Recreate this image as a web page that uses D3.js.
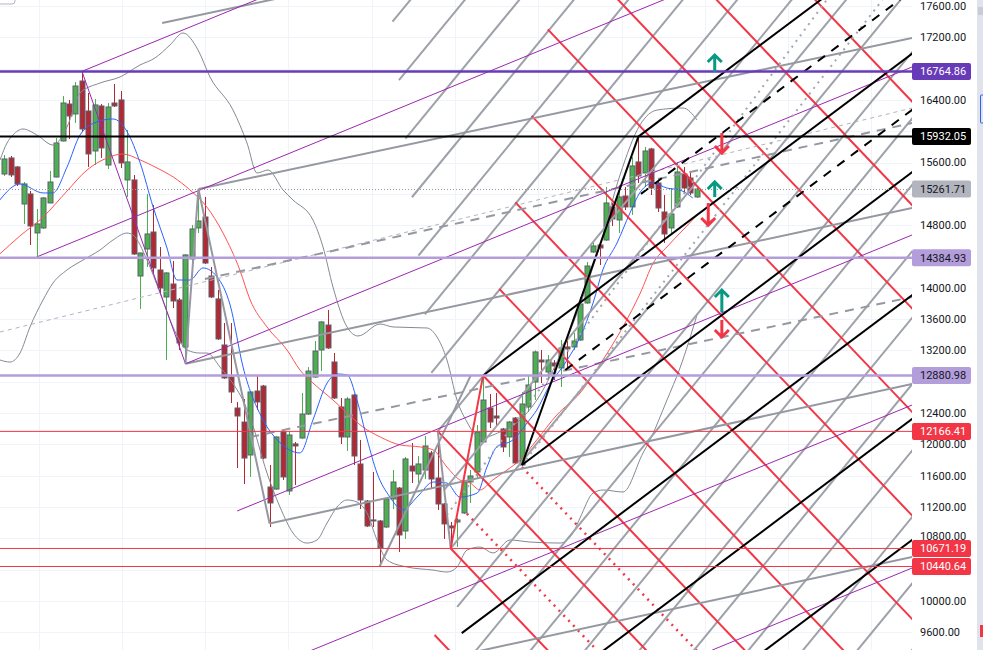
<!DOCTYPE html>
<html>
<head>
<meta charset="utf-8">
<script src="https://cdn.jsdelivr.net/npm/d3@7"></script>
<style>
body { margin: 0; background: #fff; overflow: hidden; }
svg { display: block; font-family: Roboto, "Noto Sans", sans-serif; }
</style>
</head>
<body>
<div id="chart"></div>
<script>
// candles, one per bar (index 0..107)
const opens = [15454,15659,15544,15071,15199,14701,14765,15084,15416,15876,
  16348,16221,16642,16259,15748,16323,15569,16361,16400,15378,
  15378,14151,14496,14713,14228,13883,14049,13845,13245,14369,
  14765,14905,14151,13858,13270,12861,12465,12286,11865,12682,
  12746,11456,11430,12159,11405,12006,12082,12388,12861,13206,
  13525,13053,12478,12095,12631,11750,11277,11035,11022,10945,
  11303,11443,10894,11724,11622,11673,11890,11571,11239,10958,
  11009,11124,11520,11648,12031,12465,12363,12197,12095,12337,
  11737,12478,12797,13078,12925,13040,12976,13245,13245,13334,
  13807,14458,14547,14611,15033,14867,15173,15033,15608,15467,
  15774,15339,14969,14765,15033,15454,15403,15161];
const highs = [15697,15684,15557,15352,15237,15007,15160,15493,15914,16451,
  16400,16630,16765,16489,16412,16349,16361,16604,16515,16016,
  15442,14450,15199,15058,14522,14200,14343,13870,14430,14803,
  15263,15161,14266,13973,13551,13551,12542,12580,12680,12887,
  12760,11737,12105,12172,12172,12031,12657,12988,13321,13576,
  13717,13168,12593,12606,12645,12057,11290,11648,11035,11316,
  11673,11456,11839,12018,11852,12108,11916,12166,11252,11009,
  11060,11545,11673,12248,12881,12644,12657,12210,12300,12350,
  12670,12881,13200,13206,13142,13078,13334,13334,13424,13883,
  14330,14586,14573,15288,15084,15314,15288,15672,15932,15799,
  15787,15403,15186,15275,15608,15544,15493,15275];
const lows = [15429,15416,15301,14816,14547,14394,14752,15084,15410,15870,
  15901,16106,15991,15544,15569,15659,15518,16310,15531,15161,
  14420,13730,14266,14190,13934,13078,13743,13206,13117,14202,
  14701,14305,13870,13335,12837,12529,11699,11494,11584,12440,
  11810,10945,11418,11545,11354,11482,12070,12376,12850,12937,
  13220,12580,12006,11916,11737,11175,10945,10945,10441,10932,
  11175,10626,10792,11507,11507,11558,11443,11162,10792,10671,
  10690,11110,11252,11571,12020,12210,12223,11903,11839,11750,
  11737,12414,12567,12784,12823,12823,12733,12950,13206,13321,
  13794,14445,14292,14598,14790,14701,14994,14931,15339,15288,
  15186,14969,14573,14701,15020,15212,15186,15148];
const closes = [15646,15442,15327,15327,14790,14816,15148,15352,15850,16361,
  16195,16578,16029,15710,16336,15787,16310,16323,15595,15608,
  14432,14445,14688,14254,13998,14190,13832,13296,14420,14752,
  14854,14317,13883,13347,12849,12670,12363,11826,12670,12542,
  11826,11252,12095,11584,12120,11980,12388,12937,13193,13564,
  13232,12593,12095,12580,11852,11290,10958,11022,10677,11303,
  11520,10843,11814,11660,11750,11980,11558,11239,10984,10933,
  11035,11520,11597,12159,12567,12286,12337,11967,12286,11763,
  12516,12759,13181,13053,13078,13002,13232,13219,13321,13794,
  14279,14535,14509,15084,14880,15161,15033,15557,15429,15748,
  15275,15020,14688,14944,15480,15275,15212,15262];

// indicator lines: [bar, price]
const fastMA = [[-0.7,15122],[2.4,15327],[6.0,15212],[7.5,15212],[9.7,15544],[11.7,15952],[14.3,16119],[16.8,16157],
  [19.0,15991],[21.0,15595],[23.0,15033],[25.1,14522],[26.7,14100],[28.7,14100],[30.7,14254],[32.9,14139],
  [34.9,13781],[36.9,12989],[40.0,12312],[42.2,12057],[45.7,11891],[47.7,12312],[49.9,12785],[51.5,12900],[53.0,12887],
  [54.5,12567],[56.1,12057],[57.6,11635],[59.6,11328],[61.6,11162],[63.8,11328],[66.3,11520],[68.4,11507],
  [70.4,11328],[73.1,11379],[74.6,11712],[76.1,11967],[78.6,12057],[80.8,12274],[82.3,12440],[84.3,12759],
  [87.0,13078],[89.0,13372],[91.0,13807],[92.5,14228],[94.7,14573],[96.7,14956],[98.3,15224],[100.3,15339],
  [102.4,15275],[104.4,15250],[106.4,15148]];
const slowMA = [[-0.7,14432],[2.4,14662],[6.0,14904],[9.7,15237],[12.8,15506],[15.9,15659],[18.3,15710],[21.0,15634],
  [23.6,15531],[26.1,15416],[28.7,15250],[31.3,15033],[33.8,14701],[36.4,14228],[38.0,13845],[40.6,13500],
  [43.7,13206],[45.7,12950],[47.7,12785],[50.8,12567],[53.0,12401],[55.4,12223],[58.1,12095],[61.2,11993],
  [64.3,11967],[66.3,11929],[68.4,11712],[70.4,11546],[72.0,11507],[73.5,11418],[75.5,11546],[77.7,11673],
  [79.7,11801],[82.3,12057],[85.4,12376],[89.0,12657],[92.5,13078],[95.6,13500],[98.3,13934],[100.3,14317],
  [102.4,14522],[104.9,14739],[107.1,14931]];
const bandUpper = [[-0.66,15633],[0.42,15850],[1.34,15952],[2.89,16029],[5.05,15952],[7.53,15824],[9.69,16054],
  [11.7,16489],[14.79,16616],[17.88,16693],[20.97,16846],[23.29,16936],[25.61,17102],[27.62,17255],[29.94,17038],
  [31.79,16693],[35.35,16271],[37.51,15850],[39.06,15467],[40.76,15505],[43.08,15250],[44.62,15122],[47.71,14866],
  [49.26,14521],[50.8,14010],[52.97,13500],[54.67,13385],[58.07,13538],[60.08,13500],[65.33,13487],[66.88,13372],
  [68.42,13078],[69.97,12567],[71.51,12286],[73.53,12082],[76.62,12159],[79.71,12312],[82.8,12631],[85.89,13142],
  [88.98,13781],[92.07,14547],[95.16,15441],[98.25,16080],[100.88,16271],[104.9,16297],[107.07,16144]];
const bandLower = [[-0.66,13078],[0.88,13052],[2.43,13167],[3.97,13500],[5.98,13844],[7.53,14062],[9.69,14228],
  [12.16,14355],[14.79,14483],[16.8,14611],[18.96,14700],[19.89,14675],[22.06,14355],[24.07,13934],[26.07,13500],
  [28.24,13206],[30.25,13167],[31.33,13167],[33.34,12988],[37.98,12350],[40.6,11635],[42.61,11200],[44.62,10868],
  [46.78,10740],[48.33,10779],[49.88,10996],[51.42,11200],[52.97,11290],[54.51,11264],[56.06,11124],[57.6,10779],
  [59.15,10523],[62.24,10434],[66.26,10395],[68.42,10370],[69.97,10434],[71.51,10651],[73.52,10689],[75.53,10613],
  [78.16,10779],[81.25,10753],[85.89,10740],[87.9,10868],[88.98,11060],[91.0,11379],[92.53,11418],[95.62,11392],
  [98.71,11890],[99.79,12056],[102.42,12567],[104.43,12976],[107.06,13653]];

// horizontal levels and price scale
const levelPrices = [16764.86, 15932.05, 14384.93, 12880.98, 12166.41, 10671.19, 10440.64];
const lastPrice = 15261.71;
const priceTicks = [9600,10000,10400,10800,11200,11600,12000,12400,12800,13200,13600,14000,14400,14800,15200,15600,16000,16400,16800,17200,17600];
const tickLabels = [9600,10000,10800,11200,11600,12000,12400,13200,13600,14000,14800,15600,16400,17200,17600];
const gridBars = [5.3,18.2,31.0,43.9,56.8,69.6,82.5,95.4,108.3,121.1,134.0];

// drawing tools, in [bar, price]
const greyRayStarts = [[60,17400],[61,16652],[62,15905],[63,15157],[64,14410],[65,13662],[66,12914],[67,12166.41],
  [68,11419],[69,10671.19],[70,9924],[71,9176],[72,8428],[73,7681],[74,6933],[75,6186],[76,5438],[77,4690],[78,3943],[79,3195]];
const greyRaySlope = 100.8;      // price per bar
const redRayStarts = [[66.5,9566],[69,10671.19],[67,12166.41],[74,12880.98],[76.5,13986],[79,15091],[81.5,16196],
  [84,17301],[86.5,18406],[89,19510],[91.5,20615]];
const redRaySlope = -86.8;
const redMidStarts = [[71.5,11115],[80,11710]];
const blackRayStarts = [[98,15932.05],[74,12880.98],[80,11737],[70.7,9590],[88,9081],[108,8776]];
const blackMidStarts = [[98.4,15200],[86.7,12950]];
const blackSlope = 62;
const greySegs = [[[24.4,17383],[140.3,19420]],[[30,15263],[140.3,17191]],[[28,13030],[140.3,15020]],
  [[41,10990],[140.3,12772]],[[70,9300],[140.3,10562]]];
const purpleSegs = [[[12,16764.86],[40,17714]],[[5,14394],[110,17953]],[[28,13030],[140.3,16821]],
  [[36,11150],[140.3,14675]],[[45.7,9310],[140.3,12503]],[[109.4,9373],[140.3,10421]]];
const greyDashSegs = [[[31,14113],[140.3,16105]],[[38,12094],[140.3,13883]]];
const greyThinDashSegs = [[[-0.66,13436],[140.3,16297]]];
const greyDotSegs = [[[80,11737],[135.7,17677]],[[68.4,11098],[127.1,17677]]];
const purpleLeg = [[12,16764.86],[28,13030]];
const greyLegs = [[[28,13030],[30,15263],[41,10990]],[[67,12166.41],[69,10671.19]],[[58,10440.64],[72.1,12880.98]]];
const redLeg = [[69,10671.19],[74,12880.98]];
const blackLeg = [[80,11737],[98,15932.05]];
const upArrows = [[109.8,16974],[109.8,15352],[110.9,13972]];
const downArrows = [[110.9,15722],[108.8,14802],[110.9,13372]];

const W = 983, H = 650, PW = 912;
const GREEN = '#4caf50', RED = '#f23645', GREY = '#9598a1', TEAL = '#089981';

const x = d3.scaleLinear().domain([-0.665, 140.29]).range([0, PW]);
const y = d3.scaleLinear().domain([9600, 17600]).range([632.3, 6]);

const svg = d3.select('#chart').append('svg').attr('width', W).attr('height', H);
svg.append('rect').attr('width', W).attr('height', H).attr('fill', '#fff');
svg.append('clipPath').attr('id', 'plot').append('rect').attr('width', PW).attr('height', H);

const grid = svg.append('g').attr('stroke', '#f0f3fa').attr('stroke-width', 1);
grid.selectAll('.h').data(priceTicks).enter().append('line')
  .attr('x1', 0).attr('x2', PW).attr('y1', d => Math.round(y(d)) + 0.5).attr('y2', d => Math.round(y(d)) + 0.5);
grid.selectAll('.v').data(gridBars).enter().append('line')
  .attr('y1', 0).attr('y2', H).attr('x1', d => Math.round(x(d)) + 0.5).attr('x2', d => Math.round(x(d)) + 0.5);

const plot = svg.append('g').attr('clip-path', 'url(#plot)');

// candles
const bars = d3.range(opens.length);
const cg = plot.append('g');
cg.selectAll('.wick').data(bars).enter().append('line')
  .attr('x1', i => Math.round(x(i)) + 0.5).attr('x2', i => Math.round(x(i)) + 0.5)
  .attr('y1', i => y(highs[i])).attr('y2', i => y(lows[i]))
  .attr('stroke', i => closes[i] >= opens[i] ? GREEN : '#b22833').attr('stroke-width', 1);
cg.selectAll('.body').data(bars).enter().append('rect')
  .attr('x', i => Math.round(x(i)) - 2)
  .attr('y', i => y(Math.max(opens[i], closes[i])))
  .attr('width', 5)
  .attr('height', i => Math.max(1, Math.abs(y(opens[i]) - y(closes[i]))))
  .attr('fill', i => closes[i] >= opens[i] ? GREEN : '#b22833')
  .attr('stroke', '#5d606b').attr('stroke-width', 1);

// indicators
const curve = d3.line().x(d => x(d[0])).y(d => y(d[1])).curve(d3.curveMonotoneX);
[[bandUpper, '#868993'], [bandLower, '#868993'], [slowMA, '#ff5252'], [fastMA, '#2962ff']].forEach(([pts, c]) => {
  plot.append('path').attr('d', curve(pts)).attr('fill', 'none').attr('stroke', c).attr('stroke-width', 1);
});

// drawings
const dg = plot.append('g').attr('fill', 'none').attr('stroke-linecap', 'butt');
function seg(a, b, color, width, dash) {
  const l = dg.append('line').attr('x1', x(a[0])).attr('y1', y(a[1])).attr('x2', x(b[0])).attr('y2', y(b[1]))
    .attr('stroke', color).attr('stroke-width', width);
  if (dash) l.attr('stroke-dasharray', dash);
  return l;
}
function ray(s, slope, color, width, dash) {
  return seg(s, [s[0] + 90, s[1] + slope * 90], color, width, dash);
}
const poly = d3.line().x(d => x(d[0])).y(d => y(d[1]));

greyRayStarts.forEach(s => ray(s, greyRaySlope, '#9ea1a9', 2));
redRayStarts.forEach(s => ray(s, redRaySlope, RED, 2));
redMidStarts.forEach(s => ray(s, redRaySlope, RED, 2.5, '2 5'));
greyThinDashSegs.forEach(s => seg(s[0], s[1], '#b2b5be', 1, '4 4'));
greyDashSegs.forEach(s => seg(s[0], s[1], GREY, 2, '9 7'));
greySegs.forEach(s => seg(s[0], s[1], GREY, 2));
purpleSegs.forEach(s => seg(s[0], s[1], '#9c27b0', 1));
greyDotSegs.forEach(s => seg(s[0], s[1], '#a3a6ae', 2, '2 5'));
blackRayStarts.forEach(s => ray(s, blackSlope, '#000', 2));
blackMidStarts.forEach(s => ray(s, blackSlope, '#000', 2, '9 8'));
dg.append('path').attr('d', poly(purpleLeg)).attr('stroke', '#9c27b0').attr('stroke-width', 1);
greyLegs.forEach(p => dg.append('path').attr('d', poly(p)).attr('stroke', GREY).attr('stroke-width', 2));
dg.append('path').attr('d', poly(redLeg)).attr('stroke', RED).attr('stroke-width', 2);
dg.append('path').attr('d', poly(blackLeg)).attr('stroke', '#000').attr('stroke-width', 2);

// horizontal levels
const levelColor = ['#673ab7', '#000', '#b39ddb', '#b39ddb', RED, RED, RED];
const levelWidth = [2.5, 2, 2.5, 2.5, 1, 1, 1];
levelPrices.forEach((p, k) => {
  plot.append('line').attr('x1', 0).attr('x2', PW).attr('y1', y(p)).attr('y2', y(p))
    .attr('stroke', levelColor[k]).attr('stroke-width', levelWidth[k]);
});
plot.append('line').attr('x1', 0).attr('x2', PW).attr('y1', Math.round(y(lastPrice)) + 0.5).attr('y2', Math.round(y(lastPrice)) + 0.5)
  .attr('stroke', '#9598a1').attr('stroke-width', 1).attr('stroke-dasharray', '1 2');

// arrow marks
const upSize = [17, 15, 22], downSize = [20, 22, 17];
function arrow(d, h, up) {
  const px = x(d[0]), py = y(d[1]);
  const s = up ? 1 : -1, w = 7;
  plot.append('path')
    .attr('d', `M${px},${py + s * h} L${px},${py + s * 1.5} M${px - w},${py + s * w} L${px},${py} L${px + w},${py + s * w}`)
    .attr('fill', 'none').attr('stroke', up ? TEAL : RED).attr('stroke-width', 3).attr('stroke-linejoin', 'miter');
}
upArrows.forEach((d, k) => arrow(d, upSize[k], true));
downArrows.forEach((d, k) => arrow(d, downSize[k], false));

// price scale
const axis = svg.append('g').attr('font-size', 11);
axis.selectAll('text').data(tickLabels).enter().append('text')
  .attr('x', 920).attr('y', d => y(d) - (d === 10800 ? 2 : 0)).attr('dy', '0.35em').attr('fill', '#131722')
  .text(d => d3.format('.2f')(d));
const labelFill = ['#673ab7', '#000', '#b39ddb', '#b39ddb', RED, RED, RED];
const labelText = ['#fff', '#fff', '#131722', '#131722', '#fff', '#fff', '#fff'];
function priceTag(p, fill, txt) {
  axis.append('rect').attr('x', 912).attr('y', y(p) - 8.5).attr('width', 59).attr('height', 17).attr('rx', 2).attr('fill', fill);
  axis.append('text').attr('x', 920).attr('y', y(p)).attr('dy', '0.35em').attr('fill', txt).text(d3.format('.2f')(p));
}
levelPrices.forEach((p, k) => priceTag(p, labelFill[k], labelText[k]));
priceTag(lastPrice, '#b2b5be', '#131722');

// right edge strip and corner bits
svg.append('rect').attr('x', 977).attr('y', 0).attr('width', 6).attr('height', H).attr('fill', '#e0e3eb');
svg.append('rect').attr('x', 978).attr('y', 7).attr('width', 6).attr('height', 8).attr('fill', '#c9ccd4');
svg.append('rect').attr('x', 980.5).attr('y', 95).attr('width', 4).attr('height', 28).attr('rx', 1)
  .attr('fill', 'none').attr('stroke', '#2962ff').attr('stroke-width', 1);
svg.append('rect').attr('x', 980).attr('y', 625).attr('width', 4).attr('height', 12).attr('fill', RED);
svg.append('rect').attr('x', -4).attr('y', -8).attr('width', 19).attr('height', 12).attr('rx', 3)
  .attr('fill', '#fff').attr('stroke', '#b2b5be');
</script>
</body>
</html>
